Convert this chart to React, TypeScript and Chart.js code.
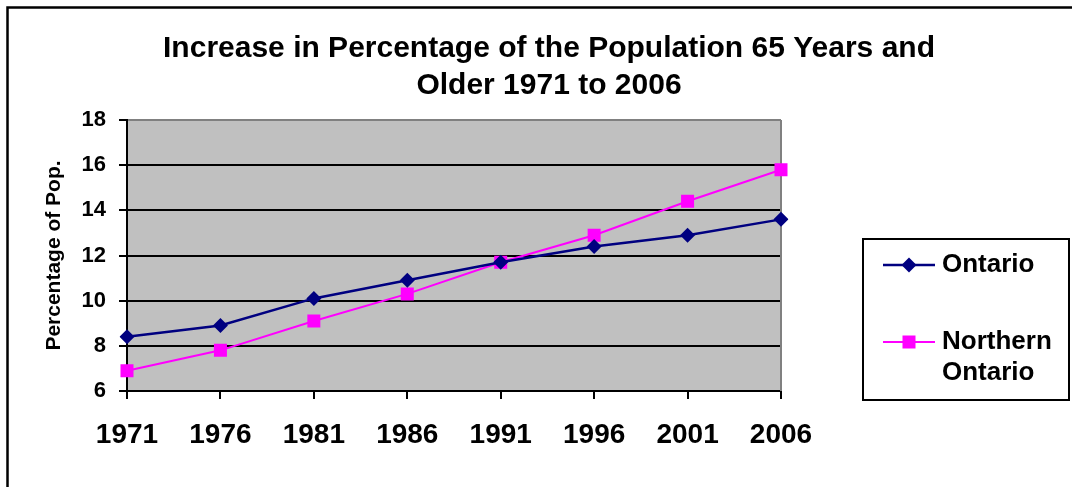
import React, { useEffect, useRef } from "react";
import { Chart, registerables } from "chart.js";

Chart.register(...registerables);

const TITLE_LINES = ["Increase in Percentage of the Population 65 Years and", "Older 1971 to 2006"];
const YEARS = ["1971", "1976", "1981", "1986", "1991", "1996", "2001", "2006"];
const ONTARIO = [8.4, 8.9, 10.1, 10.9, 11.7, 12.4, 12.9, 13.6];
const NORTHERN_ONTARIO = [6.9, 7.8, 9.1, 10.3, 11.7, 12.9, 14.4, 15.8];
const SERIES_LABELS = ["Ontario", "Northern Ontario"];
const LEGEND_LINES = [["Ontario"], ["Northern", "Ontario"]];
const Y_TITLE = "Percentage of Pop.";
const Y_MIN = 6;
const Y_MAX = 18;
const Y_STEP = 2;

const FONT = "'Liberation Sans', Arial, Helvetica, sans-serif";
const W = 1073;
const H = 487;

const decorPlugin = {
  id: "decor",
  beforeDraw(chart: any) {
    const { ctx, chartArea } = chart;
    ctx.save();
    ctx.fillStyle = "#ffffff";
    ctx.fillRect(0, 0, chart.width, chart.height);
    ctx.fillStyle = "#C0C0C0";
    ctx.fillRect(chartArea.left, chartArea.top, chartArea.right - chartArea.left, chartArea.bottom - chartArea.top);
    ctx.restore();
  },
  beforeDatasetsDraw(chart: any) {
    const { ctx, chartArea } = chart;
    ctx.save();
    ctx.strokeStyle = "#808080";
    ctx.lineWidth = 2;
    ctx.beginPath();
    ctx.moveTo(chartArea.right, chartArea.top);
    ctx.lineTo(chartArea.right, chartArea.bottom);
    ctx.stroke();
    ctx.restore();
  },
  afterDraw(chart: any) {
    const { ctx } = chart;
    ctx.save();
    // outer frame (top and left edges visible)
    ctx.strokeStyle = "#000";
    ctx.lineWidth = 2.5;
    ctx.beginPath();
    ctx.moveTo(7.5, H + 2);
    ctx.lineTo(7.5, 7.5);
    ctx.lineTo(1072, 7.5);
    ctx.stroke();

    // title
    ctx.fillStyle = "#000";
    ctx.font = `bold 30px ${FONT}`;
    ctx.textAlign = "center";
    ctx.textBaseline = "middle";
    ctx.fillText(TITLE_LINES[0], 549, 49);
    ctx.fillText(TITLE_LINES[1], 549, 86);

    // legend box
    ctx.lineWidth = 2;
    ctx.strokeStyle = "#000";
    ctx.strokeRect(863, 239, 206, 161);

    const rows = [265, 342];
    chart.data.datasets.forEach((ds: any, i: number) => {
      const y = rows[i];
      ctx.strokeStyle = ds.borderColor;
      ctx.lineWidth = ds.borderWidth;
      ctx.beginPath();
      ctx.moveTo(883, y);
      ctx.lineTo(935, y);
      ctx.stroke();
      ctx.fillStyle = ds.pointBackgroundColor;
      const cx = 909;
      ctx.beginPath();
      if (ds.pointStyle === "rectRot") {
        const r = 7.5;
        ctx.moveTo(cx, y - r);
        ctx.lineTo(cx + r, y);
        ctx.lineTo(cx, y + r);
        ctx.lineTo(cx - r, y);
        ctx.closePath();
      } else {
        const s = 6.5;
        ctx.rect(cx - s, y - s, 2 * s, 2 * s);
      }
      ctx.fill();
      ctx.fillStyle = "#000";
      ctx.font = `bold 26px ${FONT}`;
      ctx.textAlign = "left";
      ctx.textBaseline = "middle";
      LEGEND_LINES[i].forEach((t, j) => ctx.fillText(t, 942, y + j * 31));
    });
    ctx.restore();
  },
};

export default function App() {
  const ref = useRef<HTMLCanvasElement | null>(null);
  useEffect(() => {
    if (!ref.current) return;
    const chart = new Chart(ref.current, {
      type: "line",
      data: {
        labels: YEARS,
        datasets: [
          {
            label: SERIES_LABELS[0],
            data: ONTARIO,
            borderColor: "#000080",
            backgroundColor: "#000080",
            pointBackgroundColor: "#000080",
            pointBorderColor: "#000080",
            pointStyle: "rectRot",
            pointRadius: 7.5,
            pointBorderWidth: 0,
            borderWidth: 2.5,
            tension: 0,
          } as any,
          {
            label: SERIES_LABELS[1],
            data: NORTHERN_ONTARIO,
            borderColor: "#FF00FF",
            backgroundColor: "#FF00FF",
            pointBackgroundColor: "#FF00FF",
            pointBorderColor: "#FF00FF",
            pointStyle: "rect",
            pointRadius: 9.2,
            pointBorderWidth: 0,
            borderWidth: 2,
            tension: 0,
          } as any,
        ],
      },
      options: {
        responsive: false,
        animation: false,
        devicePixelRatio: 1,
        layout: { padding: { left: 0, top: 120, right: 292, bottom: 0 } },
        plugins: {
          legend: { display: false },
          title: { display: false },
          tooltip: { enabled: false },
        },
        scales: {
          x: {
            type: "category",
            offset: false,
            grid: {
              display: true,
              drawOnChartArea: false,
              drawTicks: true,
              tickLength: 8,
              tickColor: "#000",
              lineWidth: 2,
              color: "#000",
            },
            border: { display: true, color: "#000", width: 2 },
            ticks: {
              color: "#000",
              font: { family: FONT, size: 28, weight: "bold" },
              padding: 19,
              maxRotation: 0,
              autoSkip: false,
            },
            afterFit: (scale: any) => {
              scale.height = 96;
            },
          },
          y: {
            min: Y_MIN,
            max: Y_MAX,
            grid: {
              color: (c: any) => (c.tick && c.tick.value === Y_MAX ? "#808080" : "#000"),
              lineWidth: 2,
              drawTicks: true,
              tickLength: 8,
              tickColor: "#000",
            },
            border: { display: true, color: "#000", width: 2 },
            ticks: {
              stepSize: Y_STEP,
              color: "#000",
              font: { family: FONT, size: 22, weight: "bold" },
              padding: 13,
            },
            title: {
              display: true,
              text: Y_TITLE,
              color: "#000",
              font: { family: FONT, size: 21, weight: "bold" },
              padding: { top: 42, bottom: 0 },
            },
            afterFit: (scale: any) => {
              scale.width = 127;
            },
          },
        },
      },
      plugins: [decorPlugin],
    });
    return () => chart.destroy();
  }, []);
  return (
    <div style={{ position: "absolute", left: 0, top: 0, width: W, height: H, background: "#fff" }}>
      <canvas ref={ref} width={W} height={H} style={{ display: "block", width: W, height: H }} />
    </div>
  );
}
